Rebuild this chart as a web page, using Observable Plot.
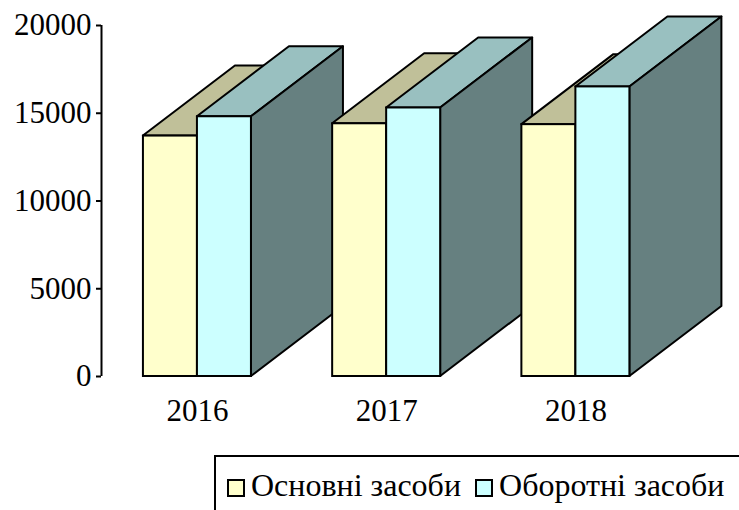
<!DOCTYPE html>
<html>
<head>
<meta charset="utf-8">
<script src="https://cdn.jsdelivr.net/npm/d3@7"></script>
<script src="https://cdn.jsdelivr.net/npm/@observablehq/plot@0.6"></script>
<style>
  html, body { margin: 0; padding: 0; background: #fff; overflow: hidden; }
  #chart { width: 739px; }
  #legend {
    margin-left: 214px; width: 560px; height: 80px; box-sizing: border-box;
    border: 2px solid #000; font-family: "Liberation Serif", "Times New Roman", serif;
    font-size: 32px; color: #000; white-space: nowrap; padding: 11px 0 0 11px; line-height: 34px;
  }
  #legend .sw { display: inline-block; width: 14px; height: 14px; border: 2px solid #000; vertical-align: -1px; margin-right: 6px; }
  #legend .item { display: inline-block; margin-right: 14px; }
</style>
</head>
<body>
<div id="chart"></div>
<script>
// ---- data ----
const years = ["2016", "2017", "2018"];
const seriesNames = ["Основні засоби", "Оборотні засоби"];
const fixedAssets = [13700, 14400, 14350];    // Основні засоби
const currentAssets = [14800, 15300, 16500];  // Оборотні засоби
const yTicks = [0, 5000, 10000, 15000, 20000];

// ---- style ----
const frontColors = ["#FFFFCC", "#CCFFFF"];
const topColors = ["#C0C099", "#99C0C0"];
const sideColors = ["#808066", "#668080"];
const barW = 0.2854;      // bar width in category units
const depthX = 92, depthY = -70; // 3D depth in px
const xMin = -0.507, xMax = 2.5;

const rows = [];
years.forEach((yr, i) => {
  [fixedAssets, currentAssets].forEach((arr, s) => {
    rows.push({year: yr, s, value: arr[i], x1: i - barW + s * barW, x2: i + s * barW});
  });
});

function faces(row) {
  return (index, scales) => {
    const x = scales.x, y = scales.y;
    const x1 = x(row.x1), x2 = x(row.x2), y0 = y(0), yt = y(row.value);
    const g = d3.create("svg:g")
      .attr("stroke", "#000").attr("stroke-width", 2).attr("stroke-linejoin", "round");
    g.append("path").attr("fill", topColors[row.s])
      .attr("d", `M${x1},${yt}L${x2},${yt}L${x2 + depthX},${yt + depthY}L${x1 + depthX},${yt + depthY}Z`);
    g.append("path").attr("fill", sideColors[row.s])
      .attr("d", `M${x2},${yt}L${x2},${y0}L${x2 + depthX},${y0 + depthY}L${x2 + depthX},${yt + depthY}Z`);
    return g.node();
  };
}

const barMarks = rows.flatMap(r => [
  faces(r),
  Plot.rect([r], {x1: "x1", x2: "x2", y1: () => 0, y2: "value", fill: frontColors[r.s], stroke: "#000", strokeWidth: 2})
]);

const chart = Plot.plot({
  width: 739,
  height: 455,
  marginLeft: 101,
  marginRight: 69,
  marginTop: 25,
  marginBottom: 79,
  style: {fontFamily: "'Liberation Serif', 'Times New Roman', serif", fontSize: "31px", color: "#000", background: "#fff", overflow: "visible"},
  x: {domain: [xMin, xMax], axis: null},
  y: {domain: [0, 20000], axis: null},
  marks: [
    ...barMarks,
    Plot.ruleX([{x: xMin, a: 0, b: 20000}], {x: "x", y1: "a", y2: "b", stroke: "#000", strokeWidth: 2}),
    Plot.axisY({ticks: yTicks, tickSize: 5, tickPadding: 5, tickFormat: d3.format("d"), strokeWidth: 2, fontSize: 31}),
    Plot.axisX({ticks: [0, 1, 2], tickFormat: i => years[i], tickSize: 0, tickPadding: 22, fontSize: 31})
  ]
});
document.getElementById("chart").appendChild(chart);

const legend = document.createElement("div");
legend.id = "legend";
seriesNames.forEach((name, s) => {
  const item = document.createElement("span");
  item.className = "item";
  const sw = document.createElement("span");
  sw.className = "sw";
  sw.style.background = frontColors[s];
  item.appendChild(sw);
  item.appendChild(document.createTextNode(name));
  legend.appendChild(item);
});
document.body.appendChild(legend);
</script>
</body>
</html>
